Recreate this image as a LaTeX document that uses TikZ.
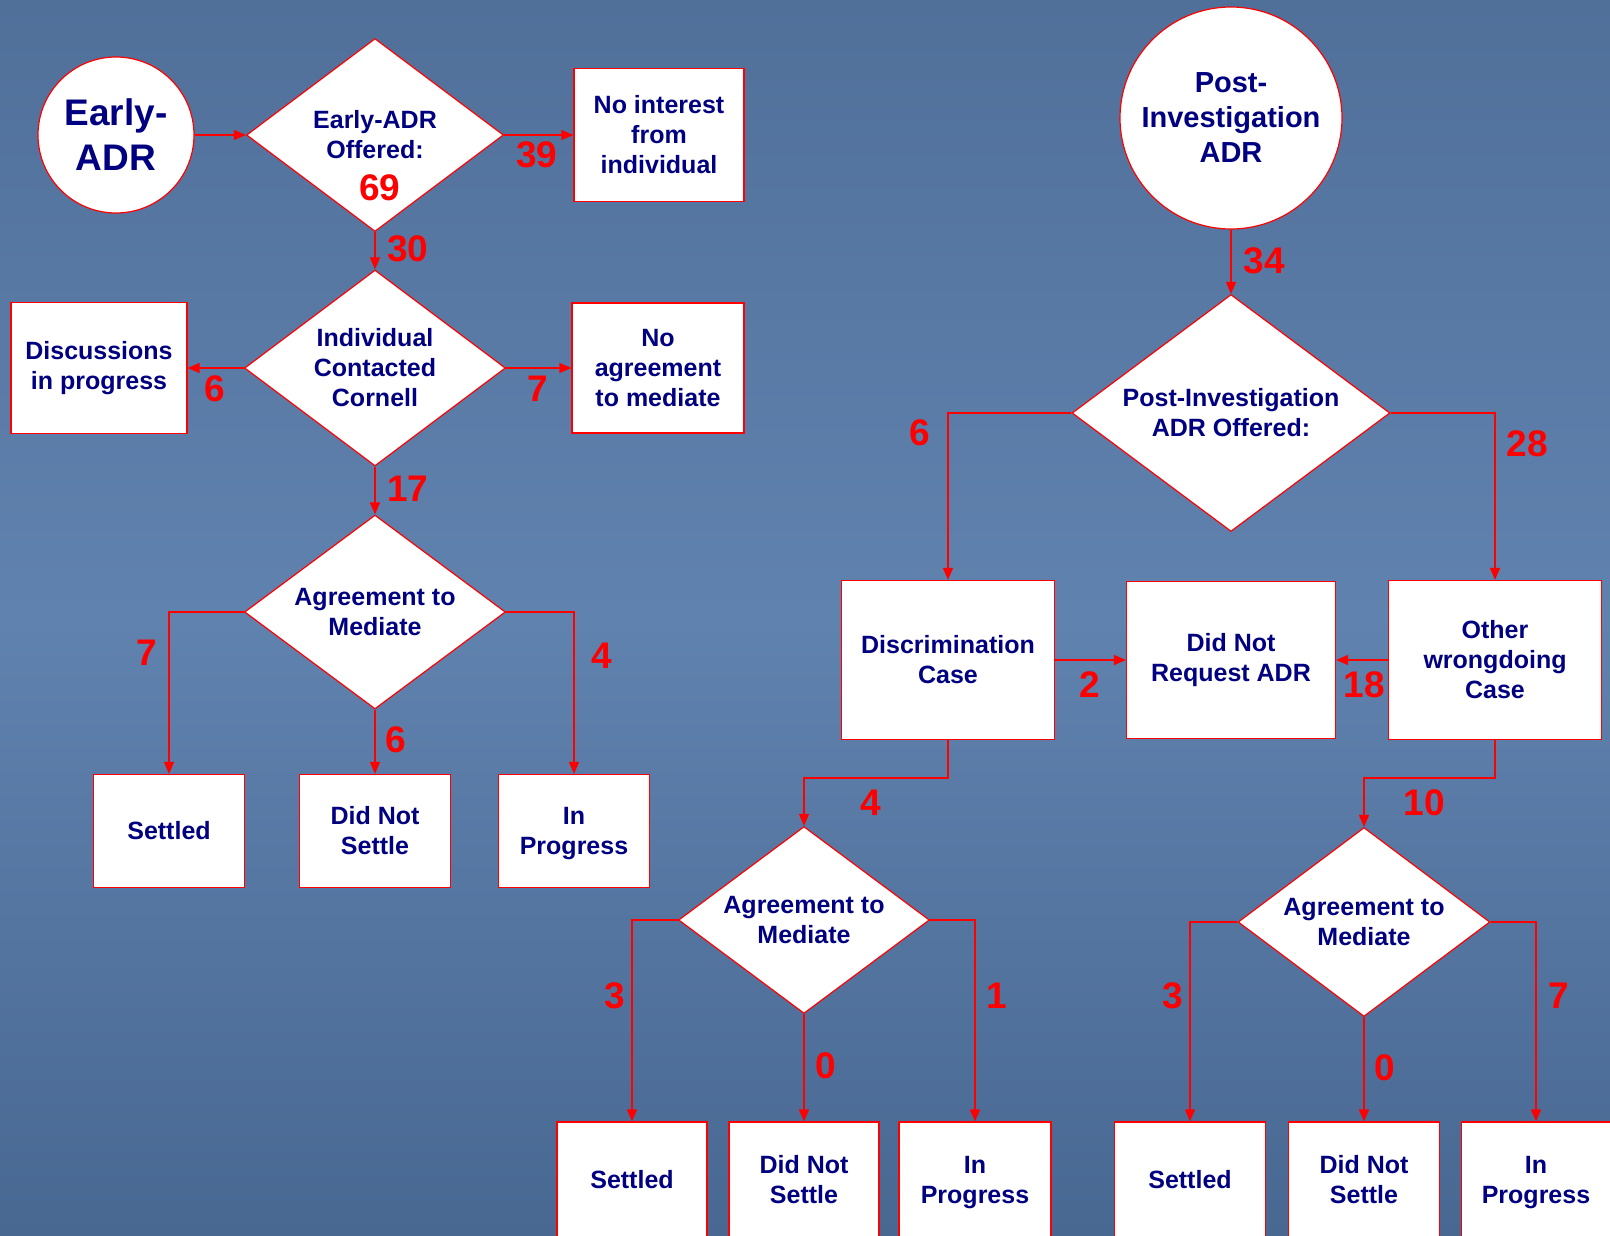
\documentclass[tikz,border=0pt]{standalone}
\usepackage{fontspec}
\setmainfont{Liberation Sans}
\usetikzlibrary{arrows.meta,positioning,shapes.geometric,calc}
\definecolor{adrNavy}{RGB}{0,0,128}
\definecolor{adrRed}{RGB}{255,0,0}
\definecolor{adrSkyTop}{RGB}{80,112,154}
\definecolor{adrSkyMid}{RGB}{96,130,174}
\definecolor{adrSkyLow}{RGB}{72,104,146}

\tikzset{
  box/.style={draw=adrRed, fill=white, line width=1.2pt, text=adrNavy, align=center,
    inner sep=0pt, font=\fontsize{25}{30}\selectfont\bfseries},
  choice/.style={diamond, draw=adrRed, fill=white, line width=1.2pt, text=adrNavy, align=center,
    inner sep=0pt, aspect=1.33, font=\fontsize{25}{30}\selectfont\bfseries},
  source/.style={circle, draw=adrRed, fill=white, line width=1.2pt, text=adrNavy, align=center,
    inner sep=0pt},
  flow/.style={draw=adrRed, line width=1.3pt, -{Triangle[length=12pt,width=10pt]}},
  count/.style={text=adrRed, inner sep=0pt, font=\fontsize{37}{40}\selectfont\bfseries},
}

\begin{document}
\begin{tikzpicture}[x=1pt, y=-1pt, line join=miter]
    % background
    \clip (0,0) rectangle (1610,1235);
    \shade[top color=adrSkyTop, bottom color=adrSkyLow, middle color=adrSkyMid] (0,0) rectangle (1610,1235);

    % early ADR branch
    \node[source, minimum size=156pt, font=\fontsize{37}{45}\selectfont\bfseries] (early) at (116,135) {Early-\\ADR};
    \node[choice, minimum width=257pt, minimum height=193pt] (offer) at (375,135) {Early-ADR\\Offered:};
    \node[box, minimum width=170pt, minimum height=133pt] (nointerest) at (659,135) {No interest\\from\\individual};
    \node[choice, minimum width=261pt, minimum height=196pt] (contact) at (375,368) {Individual\\Contacted\\Cornell};
    \node[box, minimum width=176pt, minimum height=131pt] (discuss) at (99,368) {Discussions\\in progress};
    \node[box, minimum width=172pt, minimum height=130pt] (noagree) at (658,368) {No\\agreement\\to mediate};
    \node[choice, minimum width=261pt, minimum height=194pt] (mediateA) at (375,612) {Agreement to\\Mediate};
    \node[box, minimum width=151pt, minimum height=113pt] (settledA) at (169,831) {Settled};
    \node[box, minimum width=151pt, minimum height=113pt] (notsettleA) at (375,831) {Did Not\\Settle};
    \node[box, minimum width=151pt, minimum height=113pt, text depth=0pt] (progressA) at (574,831) {In\\Progress};

    % post-investigation branch
    \node[source, minimum size=222pt, font=\fontsize{29}{35}\selectfont\bfseries] (post) at (1231,118) {Post-\\Investigation\\ADR};
    \node[choice, minimum width=318pt, minimum height=237pt] (postoffer) at (1231,413) {Post-Investigation\\ADR Offered:};
    \node[box, minimum width=213pt, minimum height=159pt] (discrim) at (948,660) {Discrimination\\Case};
    \node[box, minimum width=209pt, minimum height=157pt] (norequest) at (1231,660) {Did Not\\Request ADR};
    \node[box, minimum width=213pt, minimum height=159pt] (other) at (1495,660) {Other\\wrongdoing\\Case};
    \node[choice, minimum width=251pt, minimum height=187pt] (mediateB) at (804,920) {Agreement to\\Mediate};
    \node[choice, minimum width=252pt, minimum height=189pt] (mediateC) at (1364,922) {Agreement to\\Mediate};
    \node[box, minimum width=150pt, minimum height=116pt] (settledB) at (632,1180) {Settled};
    \node[box, minimum width=150pt, minimum height=116pt] (notsettleB) at (804,1180) {Did Not\\Settle};
    \node[box, minimum width=152pt, minimum height=116pt, text depth=0pt] (progressB) at (975,1180) {In\\Progress};
    \node[box, minimum width=151pt, minimum height=116pt] (settledC) at (1190,1180) {Settled};
    \node[box, minimum width=151pt, minimum height=116pt] (notsettleC) at (1364,1180) {Did Not\\Settle};
    \node[box, minimum width=149pt, minimum height=116pt, text depth=0pt] (progressC) at (1536,1180) {In\\Progress};

    % connectors
    \draw[flow] (early) -- (offer.west);
    \draw[flow] (offer.east) -- (nointerest.west);
    \draw[flow] (offer.south) -- (contact.north);
    \draw[flow] (contact.west) -- (discuss.east);
    \draw[flow] (contact.east) -- (noagree.west);
    \draw[flow] (contact.south) -- (mediateA.north);
    \draw[flow] (mediateA.west) -| (settledA.north);
    \draw[flow] (mediateA.south) -- (notsettleA.north);
    \draw[flow] (mediateA.east) -| (progressA.north);

    \draw[flow] (post.south) -- (postoffer.north);
    \draw[flow] (postoffer.west) -| (discrim.north);
    \draw[flow] (postoffer.east) -| (other.north);
    \draw[flow] (discrim.east) -- (norequest.west);
    \draw[flow] (other.west) -- (norequest.east);
    \draw[flow] (discrim.south) -- ++(0,38) -| (mediateB.north);
    \draw[flow] (other.south) -- ++(0,38) -| (mediateC.north);
    \draw[flow] (mediateB.west) -| (settledB.north);
    \draw[flow] (mediateB.south) -- (notsettleB.north);
    \draw[flow] (mediateB.east) -| (progressB.north);
    \draw[flow] (mediateC.west) -| (settledC.north);
    \draw[flow] (mediateC.south) -- (notsettleC.north);
    \draw[flow] (mediateC.east) -| (progressC.north);

    % counts
    \node[count] (n69) at (380,188) {69};
    \node[count] (n39) at (537,155) {39};
    \node[count] (n30) at (408,249) {30};
    \node[count] (n6a) at (215,389) {6};
    \node[count] (n7a) at (538,389) {7};
    \node[count] (n17) at (408,489) {17};
    \node[count] (n7b) at (147,653) {7};
    \node[count] (n6b) at (396,740) {6};
    \node[count] (n4a) at (602,656) {4};
    \node[count] (n34) at (1264,261) {34};
    \node[count] (n6c) at (920,433) {6};
    \node[count] (n28) at (1527,444) {28};
    \node[count] (n2) at (1090,685) {2};
    \node[count] (n18) at (1364,685) {18};
    \node[count] (n4b) at (871,803) {4};
    \node[count] (n10) at (1424,803) {10};
    \node[count] (n3a) at (615,996) {3};
    \node[count] (n0a) at (826,1066) {0};
    \node[count] (n1) at (997,996) {1};
    \node[count] (n3b) at (1173,996) {3};
    \node[count] (n0b) at (1385,1068) {0};
    \node[count] (n7c) at (1559,996) {7};
\end{tikzpicture}
\end{document}
